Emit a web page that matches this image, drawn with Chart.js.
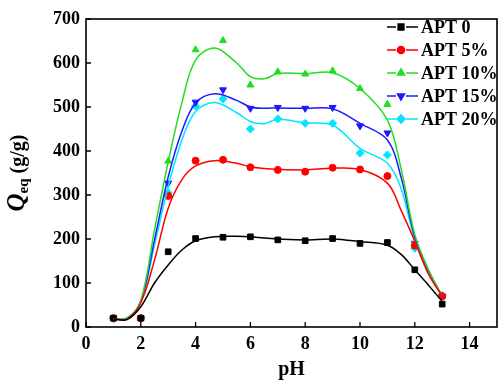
<!DOCTYPE html>
<html><head><meta charset="utf-8">
<script src="https://cdn.jsdelivr.net/npm/chart.js@4/dist/chart.umd.min.js"></script>
<style>html,body{margin:0;padding:0;background:#fff}#wrap{width:502px;height:380px}</style>
</head><body><div id="wrap"><canvas id="c" width="502" height="380"></canvas></div>
<script>
// measured points
const pH = [1,2,3,4,5,6,7,8,9,10,11,12,13];
const apt0  = [20,20,171,201,204,205,198,196,201,190,192,130,52];
const apt5  = [20,20,298,378,380,363,357,353,362,358,343,185,70];
const apt10 = [20,20,377,630,651,550,580,575,582,542,506,190,70];
const apt15 = [20,20,327,511,539,497,499,497,499,457,441,190,70];
const apt20 = [20,20,305,502,518,450,473,463,463,395,391,179,72];
// fitted curves
const fitPH  = [1,1.5,2,2.5,3,3.5,4,4.7,5.5,6,6.5,7,8,9,10,11,11.5,12,12.5,13];
const fit0   = [18,17,46,100,141,175,196,205,206,205,202,200,198,200,194,186,165,130,95,58];
const fit5   = [18,18,55,152,270,335,366,378,372,364,360,358,357,361,358,327,265,195,120,70];
const fit10  = [18,20,60,220,375,510,607,634,600,569,564,576,576,578,542,470,360,210,130,70];
const fit15  = [18,20,58,198,341,445,509,530,515,500,497,498,497,496,463,425,340,205,128,70];
const fit20  = [18,20,56,186,319,425,490,510,487,467,462,472,464,459,406,372,315,198,125,70];
const labels = ['APT 0','APT 5%','APT 10%','APT 15%','APT 20%'];
const xTicks = [0,2,4,6,8,10,12,14];
const yTicks = [0,100,200,300,400,500,600,700];

const colors = ['#000000','#ff0000','#22dd22','#1a1aff','#00e6ff'];
const styles = [
  {pointStyle:'rect', rotation:0},
  {pointStyle:'circle', rotation:0},
  {pointStyle:'triangle', rotation:0},
  {pointStyle:'triangle', rotation:180},
  {pointStyle:'rectRot', rotation:0}
];
const pts = [apt0,apt5,apt10,apt15,apt20];
const fits = [fit0,fit5,fit10,fit15,fit20];
const FONT = "'Liberation Serif','Times New Roman',serif";

const datasets = [];
fits.forEach((f,i)=>{
  datasets.push({
    label: labels[i]+' fit', data: fitPH.map((x,j)=>({x, y:f[j]})),
    borderColor: colors[i], borderWidth: 1.5, pointRadius: 0, fill:false,
    tension:0.35, showLine:true
  });
});
pts.forEach((p,i)=>{
  datasets.push({
    label: labels[i], data: pH.map((x,j)=>({x, y:p[j]})),
    borderColor: colors[i], backgroundColor: colors[i], showLine:false,
    pointStyle: styles[i].pointStyle, rotation: styles[i].rotation,
    pointRadius: styles[i].pointStyle==='circle'?3.5:4, borderWidth: 1
  });
});

const framePlugin = {
  id:'frame',
  afterDraw(chart){
    const {ctx, chartArea:a, scales} = chart;
    ctx.save();
    ctx.strokeStyle = '#000'; ctx.lineWidth = 1.6;
    ctx.strokeRect(a.left, a.top, a.right-a.left, a.bottom-a.top);
    ctx.lineWidth = 1.3;
    ctx.beginPath();
    xTicks.forEach(v=>{ const x = scales.x.getPixelForValue(v); ctx.moveTo(x,a.bottom); ctx.lineTo(x,a.bottom-5); });
    yTicks.forEach(v=>{ const y = scales.y.getPixelForValue(v); ctx.moveTo(a.left,y); ctx.lineTo(a.left+5,y); });
    ctx.stroke();
    // y title
    ctx.translate(24, 173);
    ctx.rotate(-Math.PI/2);
    ctx.fillStyle = '#000';
    ctx.textBaseline = 'alphabetic';
    const f1 = 'italic bold 25px '+FONT, f2 = 'bold 15px '+FONT, f3 = 'bold 20px '+FONT;
    ctx.font=f1; const w1 = ctx.measureText('Q').width;
    ctx.font=f2; const w2 = ctx.measureText('eq').width;
    ctx.font=f3; const w3 = ctx.measureText(' (g/g)').width;
    let x0 = -(w1+w2+w3)/2;
    ctx.font=f1; ctx.fillText('Q', x0, 0); x0+=w1;
    ctx.font=f2; ctx.fillText('eq', x0, 4); x0+=w2;
    ctx.font=f3; ctx.fillText(' (g/g)', x0, 0);
    ctx.restore();
    // legend
    ctx.save();
    ctx.font = 'bold 18px '+FONT;
    ctx.textBaseline = 'middle';
    labels.forEach((lab,i)=>{
      const y = 27 + i*23;
      ctx.strokeStyle = colors[i]; ctx.lineWidth = 1.6;
      ctx.beginPath();
      ctx.moveTo(387,y); ctx.lineTo(396,y);
      ctx.moveTo(406,y); ctx.lineTo(418,y);
      ctx.stroke();
      ctx.fillStyle = colors[i];
      Chart.helpers.drawPoint(ctx, {pointStyle:styles[i].pointStyle, rotation:styles[i].rotation, radius:styles[i].pointStyle==='circle'?3.5:4, borderWidth:1}, 401, y);
      ctx.fillStyle = '#000';
      ctx.fillText(lab, 421, y+1);
    });
    ctx.restore();
  }
};

new Chart(document.getElementById('c'), {
  type:'scatter',
  data:{datasets},
  options:{
    responsive:false, animation:false,
    layout:{padding:{top:19,right:2,left:0,bottom:0}},
    plugins:{legend:{display:false}, tooltip:{enabled:false}},
    scales:{
      x:{type:'linear', min:0, max:15,
        afterBuildTicks(s){ s.ticks = xTicks.map(v=>({value:v})); },
        afterFit(s){ s.height = 53; },
        grid:{display:false, drawTicks:false},
        border:{display:false},
        ticks:{padding:7, color:'#000', font:{family:FONT, size:18, weight:'bold'}, maxRotation:0},
        title:{display:true, text:'pH', color:'#000', font:{family:FONT, size:20, weight:'bold', lineHeight:1}, padding:{top:0,bottom:0}}
      },
      y:{type:'linear', min:0, max:700,
        afterBuildTicks(s){ s.ticks = yTicks.map(v=>({value:v})); },
        afterFit(s){ s.width = 86; },
        grid:{display:false, drawTicks:false},
        border:{display:false},
        ticks:{padding:6, color:'#000', font:{family:FONT, size:18, weight:'bold'}}
      }
    }
  },
  plugins:[framePlugin]
});
</script>
</body></html>
